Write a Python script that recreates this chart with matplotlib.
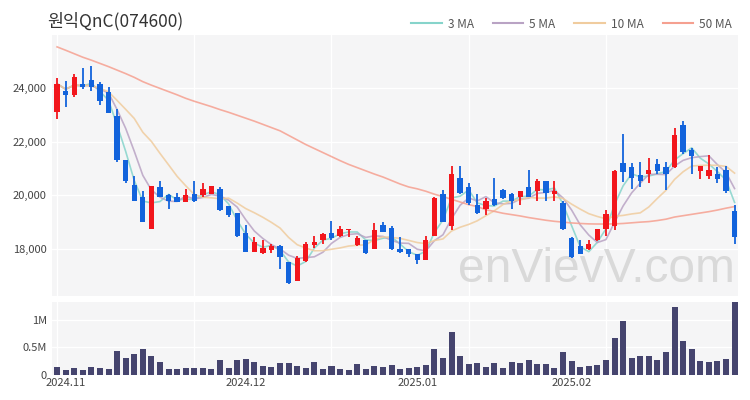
import matplotlib
matplotlib.use("Agg")
import matplotlib.pyplot as plt
from matplotlib.lines import Line2D
from matplotlib.ticker import FuncFormatter
import numpy as np
import pandas as pd

plt.rcParams["font.family"] = ["Noto Sans CJK KR", "DejaVu Sans"]

title = "원익QnC(074600)"

# daily candles, 2024-10-31 .. 2025-02-28
opens = [23100, 23900, 23750, 24150, 24300, 24150, 23850, 22950, 21300, 20400,
         19950, 18750, 20300, 20000, 19950, 19750, 20050, 20000, 20050, 20250,
         19600, 19350, 18600, 17900, 17850, 17950, 18100, 17500, 16800, 17550,
         18150, 18350, 18600, 18500, 18700, 18150, 18350, 18000, 18900, 18800,
         18000, 18000, 17800, 17600, 18500, 20050, 18850, 20650, 20300, 19650,
         19500, 19850, 20200, 20050, 19950, 20300, 20150, 20550, 20050, 19700,
         18400, 18100, 18000, 18350, 18750, 18850, 21200, 21050, 20750, 20800,
         21150, 21050, 21050, 22600, 21700, 20900, 20700, 20800, 20950, 19400]
highs = [24350, 24250, 24500, 24750, 24800, 24200, 24050, 23200, 21300, 20700,
         20150, 20350, 20550, 20050, 20100, 20250, 20550, 20450, 20350, 20300,
         19600, 19350, 18900, 18450, 18350, 18200, 18150, 17500, 17750, 18250,
         18500, 18600, 19050, 18850, 18750, 18500, 18350, 18950, 19000, 18850,
         18450, 18000, 17800, 18500, 19950, 20200, 21100, 21100, 20450, 20050,
         19900, 20650, 20250, 20100, 20150, 20950, 20600, 20550, 20550, 19800,
         18450, 18350, 18350, 18750, 19450, 20950, 22300, 21200, 21250, 21400,
         21350, 21250, 22500, 22750, 21750, 21100, 21500, 21050, 21100, 19650]
lows = [22850, 23300, 23650, 23950, 23900, 23350, 23050, 21250, 20450, 19800,
        19000, 18750, 19950, 19500, 19750, 19750, 19750, 19950, 20050, 19400,
        19200, 18450, 17900, 17900, 17800, 17850, 17250, 16700, 16800, 17500,
        18050, 18200, 18350, 18450, 18450, 18100, 17800, 18000, 18650, 17950,
        17850, 17700, 17450, 17600, 18500, 19000, 18700, 20050, 19650, 19300,
        19250, 19600, 19850, 19500, 19650, 19950, 19800, 19800, 19800, 18700,
        17650, 17800, 17950, 18300, 18500, 18700, 20500, 20250, 20300, 20450,
        20800, 20200, 21000, 21550, 20800, 20600, 20600, 20450, 20100, 18200]
closes = [24150, 23750, 24400, 24050, 24050, 23500, 23050, 21300, 20550, 19800,
          19000, 20350, 19950, 19800, 19750, 20000, 19800, 20250, 20350, 19450,
          19250, 18500, 17900, 18250, 18050, 18100, 17700, 16750, 17650, 18200,
          18250, 18550, 18400, 18750, 18750, 18400, 17850, 18700, 18650, 18000,
          17900, 17800, 17600, 18350, 19900, 19000, 20800, 20100, 19700, 19350,
          19800, 19650, 19900, 19800, 20150, 19950, 20550, 20100, 20150, 18750,
          17700, 17800, 18200, 18750, 19300, 20900, 20850, 20650, 20550, 20950,
          20900, 20800, 22250, 21600, 21450, 21100, 20950, 20600, 20150, 18450]
volumes = [138, 94, 126, 88, 138, 132, 100, 434, 314, 377,
           478, 346, 233, 113, 113, 126, 132, 132, 107, 264,
           119, 270, 289, 233, 164, 145, 208, 208, 164, 132,
           226, 100, 164, 107, 82, 195, 107, 157, 145, 170,
           113, 132, 138, 176, 465, 302, 780, 346, 189, 214,
           138, 214, 119, 226, 220, 264, 201, 201, 119, 409,
           252, 151, 157, 176, 270, 673, 987, 314, 340, 340,
           277, 415, 1233, 610, 478, 252, 239, 245, 283, 1321]  # thousands
# 50-day average needs history before the window, so read from the picture
ma50 = [25525, 25400, 25270, 25140, 25030, 24910, 24790, 24660, 24530, 24390,
        24230, 24100, 23980, 23860, 23740, 23610, 23500, 23400, 23300, 23190,
        23090, 22980, 22870, 22760, 22640, 22520, 22400, 22230, 22060, 21890,
        21740, 21590, 21440, 21290, 21150, 21030, 20910, 20790, 20680, 20550,
        20420, 20310, 20240, 20150, 20040, 19950, 19850, 19750, 19650, 19580,
        19460, 19400, 19330, 19280, 19230, 19170, 19120, 19070, 19030, 19000,
        18970, 18950, 18935, 18930, 18930, 18935, 18950, 18975, 19000, 19020,
        19060, 19110, 19190, 19240, 19290, 19340, 19390, 19450, 19520, 19580]

month_labels = ["2024.11", "2024.12", "2025.01", "2025.02"]
month_start = [1, 22, 42, 60]

UP = "#f2161c"
DOWN = "#1263dc"
BG = "#f5f5f6"

o = np.array(opens)
h = np.array(highs)
l = np.array(lows)
c = np.array(closes)
v = np.array(volumes) * 1000
x = np.arange(len(c))
cs = pd.Series(c, dtype=float)
mas = {
    "3 MA": (cs.rolling(3, min_periods=1).mean(), "#86d4cb"),
    "5 MA": (cs.rolling(5, min_periods=1).mean(), "#b9a3c4"),
    "10 MA": (cs.rolling(10, min_periods=1).mean(), "#f0cc9e"),
    "50 MA": (pd.Series(ma50), "#f5a090"),
}

fig = plt.figure(figsize=(7.5, 4), dpi=100)
ax = fig.add_axes([0.069, 0.26, 0.915, 0.652])
axv = fig.add_axes([0.069, 0.063, 0.915, 0.182], sharex=ax)

for a in (ax, axv):
    a.set_facecolor(BG)
    for s in a.spines.values():
        s.set_visible(False)
    a.tick_params(which="both", length=0, labelsize=8, colors="#444444")
    a.set_axisbelow(True)
    a.grid(True, color="white", linewidth=1.0)

up = c >= o
colors = np.where(up, UP, DOWN)
ax.vlines(x, l, h, colors=colors, linewidth=1.3, zorder=3)
body = np.maximum(np.abs(c - o), 40)
ax.bar(x, body, bottom=np.minimum(o, c), width=0.62, color=colors, zorder=4)

for name, (vals, col) in mas.items():
    ax.plot(x, vals, color=col, linewidth=1.2, alpha=0.85, zorder=2)

ax.set_xlim(-0.62, 79.4)
ax.set_ylim(16250, 25960)
ax.set_yticks([18000, 20000, 22000, 24000])
ax.yaxis.set_major_formatter(FuncFormatter(lambda val, p: f"{int(val):,}"))
ax.set_xticks([0, 16, 32, 48, 64])

ax.text(0.995, 0.1, "enVievV.com", transform=ax.transAxes, ha="right",
        va="center", fontsize=34.5, color="#d9d9d9", family="Liberation Sans",
        zorder=1)

axv.bar(x, v, width=0.7, color="#45446e")
axv.set_ylim(0, 1.33e6)
axv.set_yticks([0, 500000, 1000000])
axv.set_yticklabels(["0", "0.5M", "1M"])
axv.set_xticks([0, 16, 32, 48, 64])
axv.set_xticks(month_start, minor=True)
axv.set_xticklabels(month_labels, minor=True)
axv.tick_params(axis="x", which="both", length=0, labelsize=8,
                colors="#444444", pad=2)
axv.tick_params(axis="x", which="major", labelbottom=False)
ax.tick_params(axis="x", which="both", labelbottom=False)

fig.text(0.063, 0.948, title, fontsize=12.5, color="#333333", va="center")

handles = [Line2D([], [], color=col, linewidth=1.5) for _, col in mas.values()]
fig.legend(handles, list(mas.keys()), loc="center right",
           bbox_to_anchor=(0.99, 0.94), ncol=4, frameon=False, fontsize=8.5,
           handlelength=2.6, columnspacing=1.6, handletextpad=0.5,
           labelcolor="#555555")

fig.savefig("out.png", dpi=100)
